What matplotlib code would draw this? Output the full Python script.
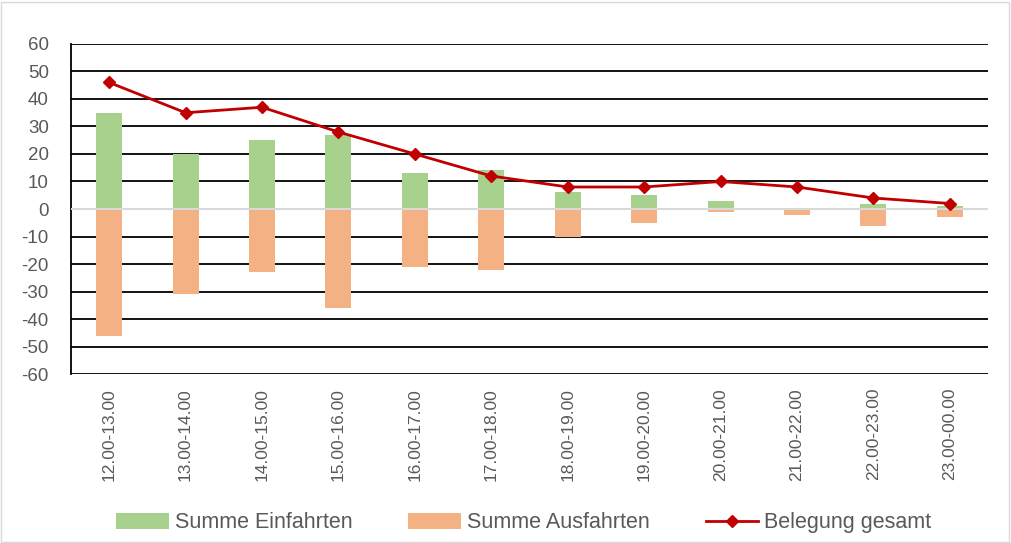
import matplotlib.pyplot as plt
from matplotlib.patches import Rectangle

plt.rcParams['font.family'] = ['Liberation Sans', 'DejaVu Sans']
plt.rcParams['axes.unicode_minus'] = False

zeiten = ['12.00-13.00', '13.00-14.00', '14.00-15.00', '15.00-16.00',
          '16.00-17.00', '17.00-18.00', '18.00-19.00', '19.00-20.00',
          '20.00-21.00', '21.00-22.00', '22.00-23.00', '23.00-00.00']
einfahrten = [35, 20, 25, 27, 13, 14, 6, 5, 3, 0, 2, 1]
ausfahrten = [-46, -31, -23, -36, -21, -22, -10, -5, -1, -2, -6, -3]
belegung = [46, 35, 37, 28, 20, 12, 8, 8, 10, 8, 4, 2]

fig = plt.figure(figsize=(10.11, 5.43), dpi=100)
ax = fig.add_axes([0.0702, 0.3112, 0.9071, 0.6078])

x = range(len(zeiten))
b1 = ax.bar(x, einfahrten, width=0.34, color='#A9D18E', zorder=2, label='Summe Einfahrten')
b2 = ax.bar(x, ausfahrten, width=0.34, color='#F4B183', zorder=2, label='Summe Ausfahrten')
ax.axhline(0, color='#D9D9D9', lw=1.5, zorder=3)
l1, = ax.plot(x, belegung, color='#C00000', lw=2, marker='D', markersize=6,
              zorder=4, label='Belegung gesamt')

ax.set_xlim(-0.5, len(zeiten) - 0.5)
ax.set_ylim(-60, 60)
ax.set_yticks(range(-60, 61, 10))
for y in range(-60, 61, 10):
    if y != 0:
        ax.axhline(y, color='black', lw=1.3, zorder=1)

ax.set_xticks(list(x))
ax.set_xticklabels(zeiten, rotation=90)
ax.tick_params(axis='both', length=0, colors='#595959')
ax.tick_params(axis='y', pad=16, labelsize=13.5)
ax.tick_params(axis='x', pad=10, labelsize=12.5)
for s in ['top', 'right', 'bottom']:
    ax.spines[s].set_visible(False)
ax.spines['left'].set_color('black')
ax.spines['left'].set_linewidth(1.3)

leg = fig.legend([b1, b2, l1], ['Summe Einfahrten', 'Summe Ausfahrten', 'Belegung gesamt'],
                 loc='center', bbox_to_anchor=(0.518, 0.037), ncol=3, frameon=False,
                 fontsize=15.5, handlelength=2.45, handleheight=0.75, columnspacing=2.6,
                 handletextpad=0.28)
for t in leg.get_texts():
    t.set_color('#595959')

fig.patches.append(Rectangle((0.001, 0.002), 0.997, 0.995, transform=fig.transFigure,
                             fill=False, edgecolor='#D9D9D9', lw=1))

fig.savefig('out.png', dpi=100)
